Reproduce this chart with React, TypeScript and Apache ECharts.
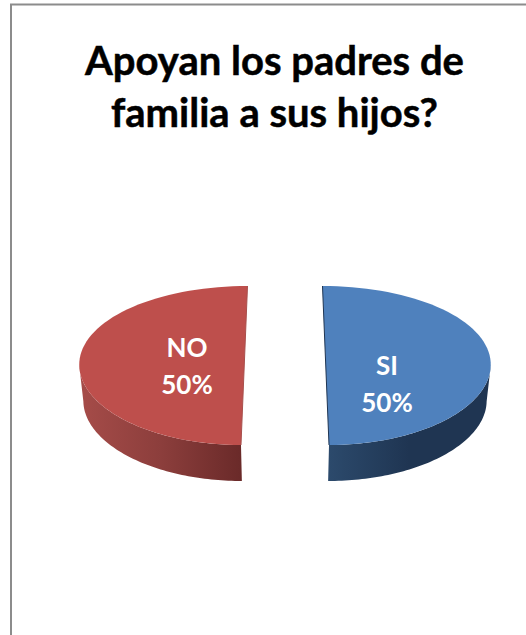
import React, { useEffect, useRef } from "react";
import * as echarts from "echarts";

const categories = ["SI", "NO"];
const values = [50, 50];
const topColors = ["#4F81BD", "#BE4F4C"];
const edgeColors = ["#1F3552", "#A8504D"];
const sideColors = [
  ["#2C4A6C", "#1F3552", "#1F3552"],
  ["#A64C49", "#8C3E3C", "#6A2A29"],
];
const labelOffsets = [[102, 18], [-98, 0]];
const titleText = "Apoyan los padres de\nfamilia a sus hijos?";

const CX = 285, CY = 365.5, RX = 165, RY = 79.5, EXPLODE = 40.75, PERSP = 0.08, RADIAL_PERSP = -0.03, DEPTH = 36, BOTTOM_SCALE = 0.98;
const total = values.reduce((a, b) => a + b, 0);

function project(theta: number, mid: number, plane: number) {
  const Y = -RY * Math.cos(theta);
  const t = Y / RY;
  const X = EXPLODE * Math.sin(mid) * (1 + PERSP * t) + RX * Math.sin(theta) * (1 + RADIAL_PERSP * t);
  const sx = X * (plane ? BOTTOM_SCALE : 1);
  return [CX + sx, CY + Y + (plane ? DEPTH : 0)];
}

function arc(a: number, b: number, mid: number, plane: number) {
  const pts: number[][] = [];
  const n = 72;
  for (let i = 0; i <= n; i++) pts.push(project(a + ((b - a) * i) / n, mid, plane));
  return pts;
}

const renderItem = (params: any, api: any) => {
  const i = params.dataIndex;
  const before = values.slice(0, i).reduce((a, b) => a + b, 0);
  const v = api.value(0);
  const a = (before / total) * Math.PI * 2;
  const b = ((before + v) / total) * Math.PI * 2;
  const mid = (a + b) / 2;
  const children: any[] = [];
  const fa = Math.max(a, Math.PI / 2);
  const fb = Math.min(b, (Math.PI * 3) / 2);
  if (fb > fa) {
    const upper = arc(fa, fb, mid, 0);
    const lower = arc(fa, fb, mid, 1).reverse();
    children.push({
      type: "polygon",
      shape: { points: upper.concat(lower) },
      style: {
        fill: new echarts.graphic.LinearGradient(0, 0, 1, 0, [
          { offset: 0, color: sideColors[i][0] },
          { offset: 0.5, color: sideColors[i][1] },
          { offset: 1, color: sideColors[i][2] },
        ]),
      },
    });
  }
  const top = arc(a, b, mid, 0);
  children.push({ type: "polygon", shape: { points: top }, style: { fill: topColors[i] } });
  children.push({
    type: "line",
    shape: { x1: top[0][0], y1: top[0][1], x2: top[top.length - 1][0], y2: top[top.length - 1][1] },
    style: { stroke: edgeColors[i], lineWidth: 1 },
  });
  children.push({
    type: "text",
    x: CX + labelOffsets[i][0],
    y: CY + labelOffsets[i][1],
    style: {
      text: `${categories[i]}\n${Math.round((v / total) * 100)}%`,
      fill: "#FFFFFF",
      font: "bold 26px Lato",
      lineHeight: 37,
      align: "center",
      verticalAlign: "middle",
    },
  });
  return { type: "group", children };
};

export default function App() {
  const ref = useRef<HTMLDivElement>(null);
  useEffect(() => {
    const chart = echarts.init(ref.current!, undefined, { renderer: "svg" });
    chart.setOption({
      animation: false,
      backgroundColor: "#FFFFFF",
      title: {
        text: titleText,
        left: 269.5,
        top: 29,
        textAlign: "center",
        textStyle: {
          fontFamily: "Lato",
          fontWeight: "bold",
          fontSize: 40,
          lineHeight: 52,
          color: "#000000",
          textBorderColor: "#000000",
          textBorderWidth: 0.5,
        },
      },
      graphic: [
        {
          type: "rect",
          shape: { x: 11, y: 4.5, width: 600, height: 700 },
          style: { fill: "none", stroke: "#8C8C8C", lineWidth: 2 },
          silent: true,
        },
      ],
      series: [
        {
          type: "custom",
          coordinateSystem: "none",
          renderItem,
          data: values.map((v, i) => ({ name: categories[i], value: [v] })),
          silent: true,
        },
      ],
    });
    return () => chart.dispose();
  }, []);
  return <div ref={ref} style={{ position: "fixed", left: 0, top: 0, width: 526, height: 635 }} />;
}
